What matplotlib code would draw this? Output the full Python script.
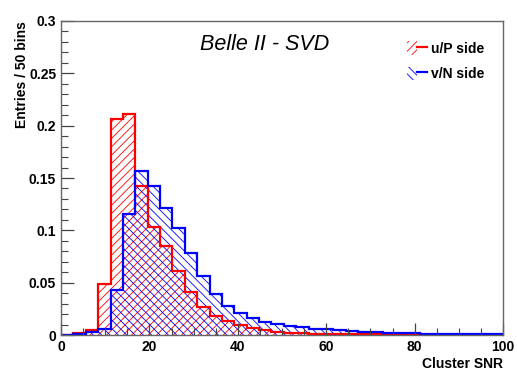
import numpy as np
import matplotlib
matplotlib.use("Agg")
import matplotlib.pyplot as plt
from matplotlib.patches import Patch
from matplotlib.lines import Line2D
from matplotlib.legend_handler import HandlerTuple
from matplotlib.ticker import MultipleLocator, FormatStrFormatter

# 50 bins of width 2.8 -> show only up to SNR 100
BIN_W = 2.8
u_side = [0.0, 0.002, 0.005, 0.049, 0.206, 0.211, 0.142, 0.103, 0.085, 0.061,
          0.041, 0.027, 0.018, 0.0137, 0.0096, 0.007, 0.0045, 0.003, 0.0022, 0.0018,
          0.0015, 0.0012, 0.001, 0.0008, 0.0007, 0.0006, 0.0005, 0.0004, 0.0004, 0.0003,
          0.0003, 0.0002, 0.0002, 0.0002, 0.0002, 0.0001, 0.0001]
v_side = [0.0, 0.001, 0.003, 0.006, 0.043, 0.116, 0.157, 0.142, 0.121, 0.102,
          0.078, 0.056, 0.039, 0.028, 0.021, 0.016, 0.0128, 0.0106, 0.0086, 0.0073,
          0.0062, 0.0055, 0.0046, 0.0039, 0.0032, 0.0027, 0.0023, 0.0019, 0.0016, 0.0014,
          0.0012, 0.001, 0.0009, 0.0008, 0.0007, 0.0006, 0.0005]
edges = np.arange(len(u_side) + 1) * BIN_W
labels = ["u/P side", "v/N side"]
colors = ["#ff0000", "#0000ff"]
hatches = ["////", "\\\\\\\\"]

plt.rcParams["font.family"] = ["Liberation Sans", "DejaVu Sans"]
plt.rcParams["hatch.linewidth"] = 0.6

fig = plt.figure(figsize=(5.17, 3.74), dpi=100)
ax = fig.add_axes([0.118, 0.104, 0.855, 0.840])

handles = []
for vals, c, h, lab in zip([u_side, v_side], colors, hatches, labels):
    ax.stairs(vals, edges, fill=True, facecolor="none", edgecolor=c, hatch=h, lw=0)
    handles.append((Patch(facecolor="none", edgecolor=c, hatch=h, lw=0),
                    Line2D([], [], color=c, lw=1.6)))
for vals, c in zip([u_side, v_side], colors):
    ax.stairs(vals, edges, color=c, lw=1.6)

ax.set_xlim(0, 100)
ax.set_ylim(0, 0.3)
ax.xaxis.set_major_locator(MultipleLocator(20))
ax.xaxis.set_minor_locator(MultipleLocator(5))
ax.yaxis.set_major_locator(MultipleLocator(0.05))
ax.yaxis.set_minor_locator(MultipleLocator(0.01))
ax.yaxis.set_major_formatter(FormatStrFormatter("%g"))
ax.tick_params(which="both", direction="in", top=False, right=False,
               color="#444444", labelsize=10)
ax.tick_params(which="major", length=9, width=0.9)
ax.tick_params(which="minor", length=5, width=0.8)
for lab in ax.get_xticklabels() + ax.get_yticklabels():
    lab.set_fontweight("bold")
for sp in ax.spines.values():
    sp.set_color("#666666")
    sp.set_linewidth(1.0)

ax.set_xlabel("Cluster SNR", loc="right", fontsize=10, fontweight="bold", labelpad=2)
ax.set_ylabel("Entries / 50 bins", loc="top", fontsize=10, fontweight="bold", labelpad=0)

ax.text(0.46, 0.925, "Belle II - SVD", transform=ax.transAxes, ha="center", va="center",
        fontsize=15.5, style="italic")

ax.legend(handles, labels, handler_map={tuple: HandlerTuple(ndivide=None, pad=0)},
          loc="upper left", bbox_to_anchor=(0.755, 0.975), frameon=False,
          prop={"weight": "bold", "size": 10}, handlelength=1.4, handleheight=1.1,
          handletextpad=0.3, labelspacing=0.8)

fig.savefig("out.png", dpi=100)
